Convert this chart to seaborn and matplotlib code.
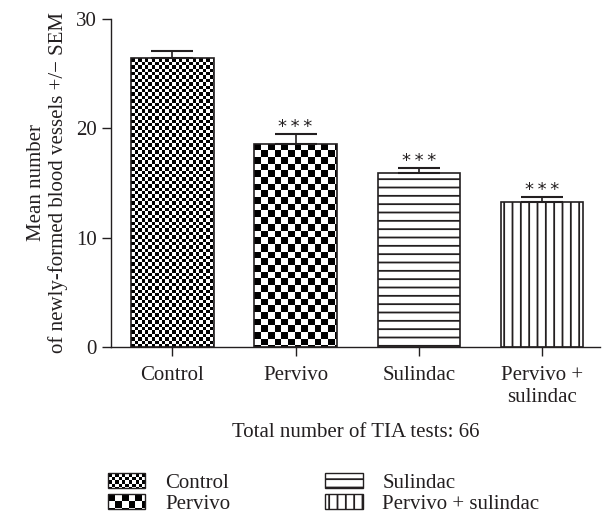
import numpy as np
import pandas as pd
import seaborn as sns
import matplotlib.pyplot as plt
from matplotlib.patches import Rectangle
from matplotlib.image import BboxImage
from matplotlib.transforms import Bbox, TransformedBbox
from matplotlib.legend_handler import HandlerBase

# data
groups = ["Control", "Pervivo", "Sulindac", "Pervivo + sulindac"]
tick_labels = ["Control", "Pervivo", "Sulindac", "Pervivo +\nsulindac"]
means = [26.4, 18.6, 15.9, 13.3]
sems = [0.65, 0.85, 0.5, 0.45]
stars = ["", "*\u2009*\u2009*", "*\u2009*\u2009*", "*\u2009*\u2009*"]

ink = "#231f20"
fs = 15

sns.set_style("ticks")
plt.rcParams["font.family"] = ["Liberation Serif", "DejaVu Serif"]
plt.rcParams["text.color"] = ink
plt.rcParams["axes.labelcolor"] = ink
plt.rcParams["xtick.color"] = ink
plt.rcParams["ytick.color"] = ink
plt.rcParams["hatch.color"] = ink
plt.rcParams["hatch.linewidth"] = 1.3

DPI = 100


def checker(h_px, w_px, cell):
    # pixel-resolution checkerboard, 0 = black, 1 = white
    i, j = np.indices((max(int(round(h_px)), 1), max(int(round(w_px)), 1)))
    return ((np.floor(i / cell) + np.floor(j / cell)) % 2).astype(float)


class TextureHandler(HandlerBase):
    def __init__(self, cell):
        super().__init__()
        self.cell = cell

    def create_artists(self, legend, orig_handle, xdescent, ydescent,
                       width, height, fontsize, trans):
        box = Bbox.from_bounds(-xdescent, -ydescent, width, height)
        img = BboxImage(TransformedBbox(box, trans), cmap="gray",
                        norm=plt.Normalize(0, 1), interpolation="nearest")
        img.set_data(checker(height * DPI / 72, width * DPI / 72, self.cell))
        edge = Rectangle((-xdescent, -ydescent), width, height,
                         facecolor="none", edgecolor=ink, lw=1.0)
        edge.set_transform(trans)
        return [img, edge]


df = pd.DataFrame({"group": groups, "mean": means, "sem": sems})

fig = plt.figure(figsize=(6.03, 5.19), dpi=DPI)
ax = fig.add_axes([0.1836, 0.3314, 0.995 - 0.1836, 0.9634 - 0.3314])

sns.barplot(data=df, x="group", y="mean", order=groups, color="white",
            width=0.67, errorbar=None, ax=ax)
ax.set_xlim(-0.5, 3.47)
ax.set_ylim(0, 30)

hatches = [None, None, "--", "||"]
cells = [3.4, 6.7, None, None]
bars = ax.patches[:len(groups)]
for bar, h, cell in zip(bars, hatches, cells):
    bar.set_edgecolor(ink)
    bar.set_linewidth(1.2)
    if h:
        bar.set_hatch(h)
    if cell:
        bar.set_facecolor("none")
        x0, y0 = bar.get_x(), bar.get_y()
        x1, y1 = x0 + bar.get_width(), y0 + bar.get_height()
        p0 = ax.transData.transform((x0, y0))
        p1 = ax.transData.transform((x1, y1))
        tex = checker(p1[1] - p0[1], p1[0] - p0[0], cell)
        im = ax.imshow(tex, extent=(x0, x1, y0, y1), cmap="gray",
                       vmin=0, vmax=1, interpolation="nearest",
                       aspect="auto", origin="upper")
        im.set_clip_path(bar)
        im.set_zorder(bar.get_zorder() - 0.01)

ax.set_xlim(-0.5, 3.47)
ax.set_ylim(0, 30)

ax.errorbar(x=np.arange(len(groups)), y=df["mean"],
            yerr=[np.zeros(len(groups)), df["sem"]], fmt="none",
            ecolor=ink, elinewidth=1.2, capsize=14.8, capthick=1.5, zorder=3)

# significance stars above the error caps
for i, (m, s, st) in enumerate(zip(means, sems, stars)):
    if st:
        ax.annotate(st, xy=(i, m + s), xytext=(0, -1.5),
                    textcoords="offset points", ha="center", va="bottom",
                    fontsize=13, family="DejaVu Sans")

ax.set_yticks([0, 10, 20, 30])
ax.set_xticks(range(len(groups)))
ax.set_xticklabels(tick_labels, linespacing=1.2)
ax.tick_params(axis="both", labelsize=fs, length=6.5, width=1.0)
ax.tick_params(axis="x", pad=7)
for side in ["left", "bottom"]:
    ax.spines[side].set_linewidth(1.0)
    ax.spines[side].set_color(ink)
sns.despine(ax=ax)

ax.set_xlabel("Total number of TIA tests: 66", fontsize=fs, labelpad=12)
ax.set_ylabel("Mean number\nof newly-formed blood vessels +/\u2212 SEM",
              fontsize=fs, labelpad=6, linespacing=1.1)

handles = [Rectangle((0, 0), 1, 1, facecolor="white", edgecolor=ink, lw=1.0,
                     hatch=h) for h in hatches]
handler_map = {handles[0]: TextureHandler(3.4), handles[1]: TextureHandler(6.7)}
fig.legend(handles, groups, handler_map=handler_map, ncol=2,
           loc="upper left", bbox_to_anchor=(0.179, 0.088), frameon=False,
           fontsize=fs, handlelength=1.8, handleheight=0.72,
           handletextpad=0.95, columnspacing=4.55, labelspacing=0.05,
           borderpad=0, borderaxespad=0)

fig.savefig("out.png", dpi=DPI)
